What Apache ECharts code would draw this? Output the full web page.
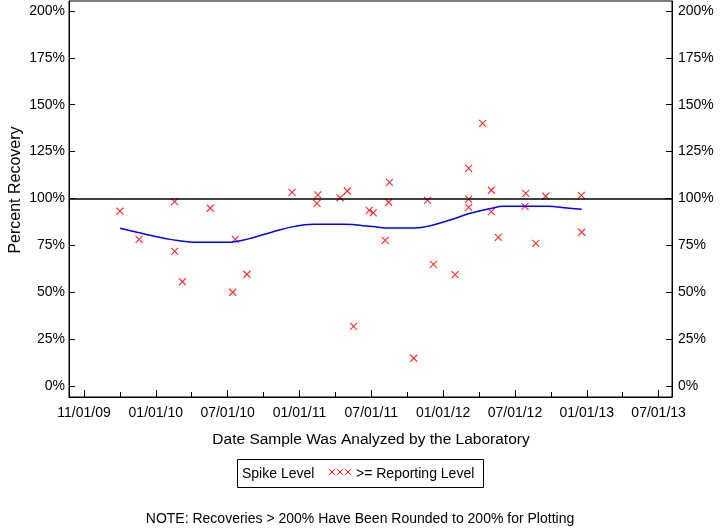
<!DOCTYPE html>
<html><head><meta charset="utf-8">
<script src="https://cdn.jsdelivr.net/npm/echarts@6/dist/echarts.min.js"></script>
<style>html,body{margin:0;padding:0;background:#fff}#c{width:720px;height:528px}</style>
</head><body><div id="c"></div>
<script>
// Tick labels on the date axis (label positions are every 6 months)
const xTickLabels = ['11/01/09','01/01/10','07/01/10','01/01/11','07/01/11','01/01/12','07/01/12','01/01/13','07/01/13'];
const xTickDates  = ['2009-07-01','2010-01-01','2010-07-01','2011-01-01','2011-07-01','2012-01-01','2012-07-01','2013-01-01','2013-07-01'];
const xMinorTickDates = ['2009-07-01','2009-10-01','2010-01-01','2010-04-01','2010-07-01','2010-10-01','2011-01-01','2011-04-01','2011-07-01','2011-10-01','2012-01-01','2012-04-01','2012-07-01','2012-10-01','2013-01-01','2013-04-01','2013-07-01'];
const yTicks = [0,25,50,75,100,125,150,175,200];

// Sample recoveries (>= reporting level)
const sampleDates = ['2009-10-01','2009-11-19','2010-02-17','2010-02-17','2010-03-08','2010-05-18','2010-07-14','2010-07-21','2010-08-20','2010-12-13','2011-02-16','2011-02-14','2011-04-13','2011-05-01','2011-05-17','2011-06-26','2011-07-06','2011-08-17','2011-08-15','2011-08-06','2011-10-18','2011-11-22','2011-12-07','2012-02-01','2012-03-05','2012-03-05','2012-03-05','2012-04-10','2012-05-02','2012-05-02','2012-05-20','2012-07-29','2012-07-27','2012-08-24','2012-09-18','2012-12-18','2012-12-19'];
const recoveries  = [93.3,78.2,98.3,71.8,55.6,94.8,50.0,78.2,59.6,103.3,101.9,97.4,100.4,104.0,31.8,93.7,92.3,108.6,98.0,77.7,14.8,99.0,64.9,59.4,116.1,99.7,95.3,140.1,104.4,93.0,79.3,102.7,95.8,76.1,101.2,101.7,82.0];

// Smoothed trend curve
const trendDates  = ['2009-10-01','2010-01-03','2010-02-06','2010-04-13','2010-06-29','2010-08-19','2010-10-26','2010-12-16','2011-02-05','2011-04-21','2011-07-06','2011-08-06','2011-10-21','2011-11-29','2012-01-19','2012-03-09','2012-04-30','2012-06-03','2012-09-22','2012-11-12','2012-12-19'];
const trendValues = [84.1,79.6,78.2,76.6,76.6,78.2,82.3,85.0,86.2,86.2,85.0,84.3,84.3,85.5,88.5,92.1,94.7,95.8,95.8,94.9,94.2];

const spikeLevel = 100;

function toMonths(s){
  const p = s.split('-').map(Number);
  const dim = new Date(Date.UTC(p[0], p[1], 0)).getUTCDate();
  return (p[0]-2009)*12 + (p[1]-7) + (p[2]-1)/dim;
}
const majorTicks = xTickDates.map(toMonths);
const minorTicks = xMinorTickDates.map(toMonths);
const X_MIN = -1.254, X_MAX = 49.12;
const Y_MIN = -5.87, Y_MAX = 205.33;
const FONT = '"Liberation Sans", Arial, sans-serif';

const chart = echarts.init(document.getElementById('c'), null, {renderer:'canvas'});
const yAxisBase = {
  type:'value', min:Y_MIN, max:Y_MAX,
  axisLine:{show:true, onZero:false, lineStyle:{color:'#000', width:1}},
  axisTick:{show:true, inside:true, length:6, customValues:yTicks, lineStyle:{color:'#000'}},
  splitLine:{show:false},
};
// legend "x" marks
const legendMarks = [];
[332, 340, 348].forEach(cx => {
  legendMarks.push({type:'line', silent:true, shape:{x1:cx-3, y1:469, x2:cx+3, y2:475}, style:{stroke:'#ff0000', lineWidth:1}});
  legendMarks.push({type:'line', silent:true, shape:{x1:cx+3, y1:469, x2:cx-3, y2:475}, style:{stroke:'#ff0000', lineWidth:1}});
});
chart.setOption({
  animation:false,
  backgroundColor:'#fff',
  grid:{left:69, right:48, top:1, bottom:131, show:true, borderColor:'#000', borderWidth:1, backgroundColor:'transparent'},
  xAxis:[
    {type:'value', min:X_MIN, max:X_MAX, position:'bottom',
     axisLine:{show:true, onZero:false, lineStyle:{color:'#000', width:1}},
     axisTick:{show:true, inside:true, length:7, customValues:majorTicks, lineStyle:{color:'#000'}},
     axisLabel:{customValues:majorTicks, margin:9, fontSize:14, color:'#000', fontFamily:FONT,
       formatter:function(v){ for(let i=0;i<majorTicks.length;i++){ if(Math.abs(majorTicks[i]-v)<1e-6) return xTickLabels[i]; } return ''; }},
     splitLine:{show:false}},
    {type:'value', min:X_MIN, max:X_MAX, position:'bottom', offset:0,
     axisLine:{show:false, onZero:false},
     axisTick:{show:true, inside:true, length:5, customValues:minorTicks, lineStyle:{color:'#000'}},
     axisLabel:{show:false}, splitLine:{show:false}}
  ],
  yAxis:[
    Object.assign({}, yAxisBase, {position:'left',
      axisLabel:{customValues:yTicks, margin:4, fontSize:14, color:'#000', fontFamily:FONT, formatter:v=>v+'%'}}),
    Object.assign({}, yAxisBase, {position:'right',
      axisLabel:{customValues:yTicks, margin:6, fontSize:14, color:'#000', fontFamily:FONT, formatter:v=>v+'%'}})
  ],
  series:[
    {name:'Spike Level', type:'line', xAxisIndex:0, yAxisIndex:0,
     data: trendDates.map((d,i)=>[toMonths(d), trendValues[i]]),
     smooth:0.4, symbol:'none', lineStyle:{color:'#0000ff', width:1.5},
     markLine:{silent:true, symbol:'none', label:{show:false},
       lineStyle:{color:'#000', type:'solid', width:1.5},
       data:[{yAxis:spikeLevel}]}},
    {name:'>= Reporting Level', type:'scatter', xAxisIndex:0, yAxisIndex:0,
     data: sampleDates.map((d,i)=>[toMonths(d), recoveries[i]]),
     symbol:'path://M0,0L10,10M10,0L0,10', symbolSize:7,
     itemStyle:{color:'transparent', borderColor:'#ff0000', borderWidth:1.2}}
  ],
  graphic:[
    {type:'text', x:16, y:190, rotation:Math.PI/2,
     style:{text:'Percent Recovery', fontSize:16, fontFamily:FONT, fill:'#000', align:'center', verticalAlign:'middle'}},
    {type:'text', x:371, y:440,
     style:{text:'Date Sample Was Analyzed by the Laboratory', fontSize:15.5, fontFamily:FONT, fill:'#000', align:'center', verticalAlign:'middle'}},
    {type:'rect', shape:{x:237.5, y:459.5, width:246, height:28},
     style:{fill:'none', stroke:'#000', lineWidth:1}},
    {type:'text', x:242, y:474,
     style:{text:'Spike Level', fontSize:14, fontFamily:FONT, fill:'#000', align:'left', verticalAlign:'middle'}},
    ...legendMarks,
    {type:'text', x:356, y:474,
     style:{text:'>= Reporting Level', fontSize:14, fontFamily:FONT, fill:'#000', align:'left', verticalAlign:'middle'}},
    {type:'text', x:360, y:519,
     style:{text:'NOTE: Recoveries > 200% Have Been Rounded to 200% for Plotting', fontSize:14, fontFamily:FONT, fill:'#000', align:'center', verticalAlign:'middle'}}
  ]
});
</script>
</body></html>
